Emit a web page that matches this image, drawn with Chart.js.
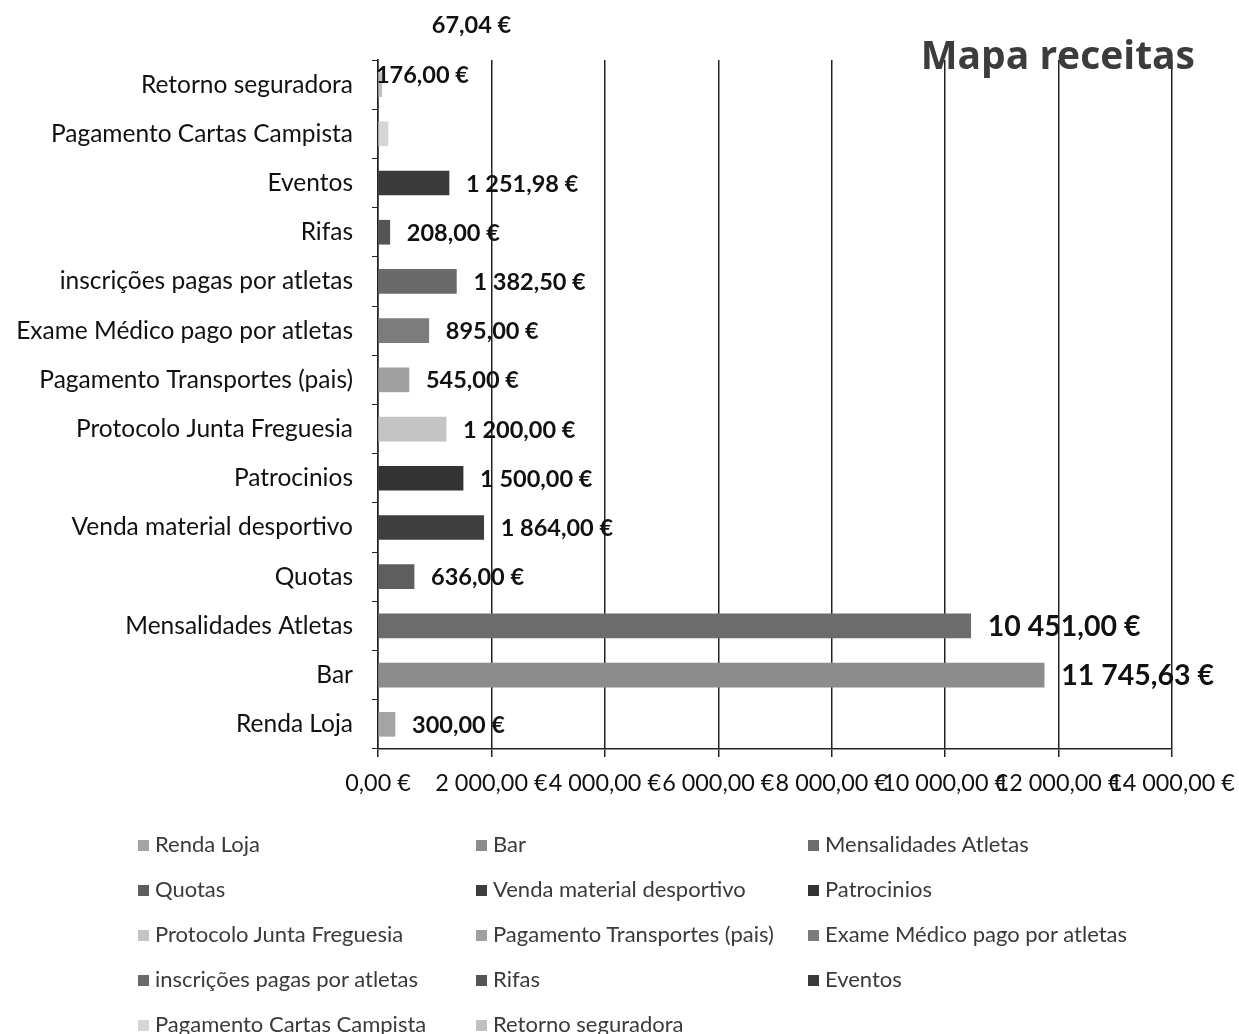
<!DOCTYPE html>
<html>
<head>
<meta charset="utf-8">
<script src="https://cdn.jsdelivr.net/npm/chart.js@4"></script>
<style>
  body { margin: 0; background: #fff; font-family: Lato, sans-serif; }
  #wrap { position: relative; width: 1239px; height: 828px; }
  #legend {
    position: absolute; left: 138px; top: 826px;
    display: grid; grid-template-columns: 338px 332px 400px;
    font-size: 22px; color: #3a3a3a;
  }
  #legend div { height: 45px; line-height: 36px; white-space: nowrap; }
  #legend span { display: inline-block; width: 11px; height: 11px; margin-right: 6px; vertical-align: 1px; }
</style>
</head>
<body>
<div id="wrap"><canvas id="receitas"></canvas></div>
<div id="legend"></div>
<script>
const categories = ['Renda Loja', 'Bar', 'Mensalidades Atletas', 'Quotas', 'Venda material desportivo',
  'Patrocinios', 'Protocolo Junta Freguesia', 'Pagamento Transportes (pais)', 'Exame Médico pago por atletas',
  'inscrições pagas por atletas', 'Rifas', 'Eventos', 'Pagamento Cartas Campista', 'Retorno seguradora'];
const values = [300, 11745.63, 10451, 636, 1864, 1500, 1200, 545, 895, 1382.5, 208, 1251.98, 176, 67.04];
const xTicks = [0, 2000, 4000, 6000, 8000, 10000, 12000, 14000];

const greys = ['#a4a4a4', '#8c8c8c', '#6c6c6c', '#5e5e5e', '#3e3e3e', '#333333', '#c4c4c4',
  '#a0a0a0', '#7c7c7c', '#6a6a6a', '#555555', '#3a3a3a', '#d6d6d6', '#c0c0c0'];

// the two tiny bars got their labels pushed above the plot in the original
const labelShift = { 12: [-29, -59], 13: [33, -60] };

function euro(v) {
  let [int, dec] = v.toFixed(2).split('.');
  int = int.replace(/\B(?=(\d{3})+(?!\d))/g, ' ');
  return int + ',' + dec + ' €';
}

const valueLabels = {
  id: 'valueLabels',
  afterDatasetsDraw(chart) {
    const ctx = chart.ctx;
    const meta = chart.getDatasetMeta(0);
    ctx.save();
    ctx.fillStyle = '#111';
    ctx.textBaseline = 'middle';
    meta.data.forEach((bar, i) => {
      const big = values[i] > 10000;
      ctx.font = 'bold ' + (big ? 28.5 : 23.5) + 'px Lato';
      const s = labelShift[i] || [0, 0];
      ctx.fillText(euro(values[i]), bar.x + 17 + s[0], bar.y + 1 + s[1]);
    });
    ctx.restore();
  }
};

const titleText = {
  id: 'titleText',
  afterDraw(chart) {
    const ctx = chart.ctx;
    ctx.save();
    ctx.font = 'bold 39px "Open Sans"';
    ctx.fillStyle = '#3c3c3c';
    ctx.textAlign = 'right';
    ctx.textBaseline = 'alphabetic';
    ctx.fillText('Mapa receitas', 1195, 69);
    ctx.restore();
  }
};

const chart = new Chart(document.querySelector('#receitas'), {
  type: 'bar',
  data: {
    labels: categories,
    datasets: [{
      label: 'Mapa receitas',
      data: values,
      backgroundColor: greys,
      barThickness: 24
    }]
  },
  options: {
    indexAxis: 'y',
    responsive: true,
    maintainAspectRatio: false,
    animation: false,
    layout: { padding: { top: 60, left: 0, right: 0, bottom: 19 } },
    plugins: {
      legend: { display: false },
      tooltip: { enabled: false }
    },
    scales: {
      x: {
        min: 0,
        max: 14000,
        afterBuildTicks(axis) { axis.ticks = xTicks.map(v => ({ value: v })); },
        afterFit(axis) { axis.paddingRight = 67; },
        grid: { color: '#222', lineWidth: 1.5, tickLength: 8 },
        border: { color: '#222', width: 1.5 },
        ticks: {
          autoSkip: false, maxRotation: 0, color: '#111', padding: 12,
          font: { family: 'Lato', size: 23.4 },
          callback: v => euro(v)
        }
      },
      y: {
        reverse: true,
        afterFit(axis) { axis.width = 378; },
        grid: { drawOnChartArea: false, color: '#222', tickLength: 6, offset: true },
        border: { color: '#222', width: 1.5 },
        ticks: { color: '#111', padding: 19, font: { family: 'Lato', size: 24.5 } }
      }
    }
  },
  plugins: [valueLabels, titleText]
});

const legend = document.querySelector('#legend');
categories.forEach((c, i) => {
  const d = document.createElement('div');
  d.innerHTML = '<span style="background:' + greys[i] + '"></span>' + c;
  legend.appendChild(d);
});
</script>
</body>
</html>
